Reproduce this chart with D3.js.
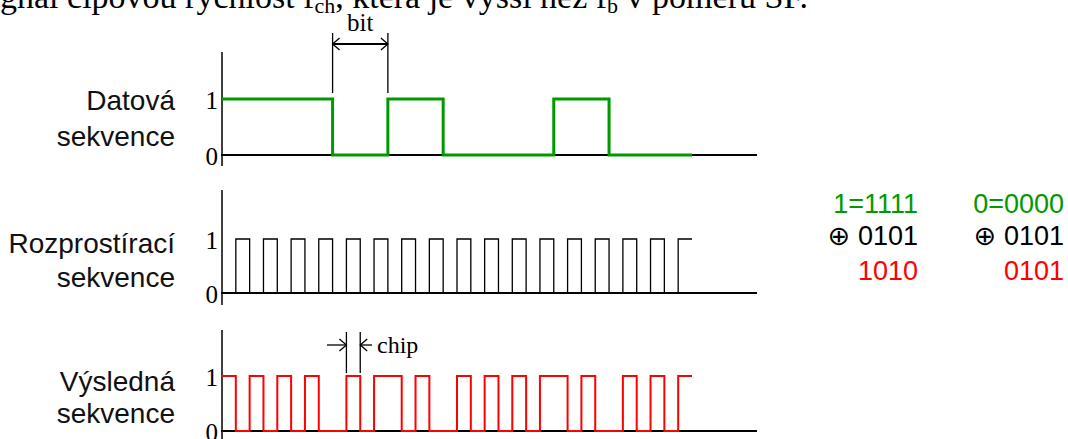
<!DOCTYPE html>
<html>
<head>
<meta charset="utf-8">
<script src="https://cdn.jsdelivr.net/npm/d3@7"></script>
<style>
  body { margin: 0; background: #fff; }
  svg { display: block; }
</style>
</head>
<body>
<div id="chart"></div>
<script>
// chart values
const panelLabels = [["Datová", "sekvence"], ["Rozprostírací", "sekvence"], ["Výsledná", "sekvence"]];
const levelLabels = ["0", "1"];
const chipsPerBit = 4;
const totalChips = 34;
const dataBits = [1, 1, 0, 1, 0, 0, 1, 0, 0];
const spreadChips = [0,1,0,1, 0,1,0,1, 0,1,0,1, 0,1,0,1, 0,1,0,1, 0,1,0,1, 0,1,0,1, 0,1,0,1, 0,1];
const resultChips = [1,0,1,0, 1,0,1,0, 0,1,0,1, 1,0,1,0, 0,1,0,1, 0,1,0,1, 1,0,1,0, 0,1,0,1, 0,1];
const bitMarker = [8, 12];   // chip index range of the marked bit
const chipMarker = [9, 10];  // chip index range of the marked chip
const codeLeft = ["1=1111", "\u2295 0101", "1010"];
const codeRight = ["0=0000", "\u2295 0101", "0101"];

const width = 1068, height = 439;
const green = "#009a00", red = "#ff0000";

const svg = d3.select("#chart").append("svg")
    .attr("width", width)
    .attr("height", height);

const x = d3.scaleLinear().domain([0, totalChips]).range([222, 692]);
const axisEnd = 757;

// layout of the three panels
const panels = [
    { zero: 155, one: 99, top: 52, bottom: 166, labelY: [110, 146], color: green, sw: 3,
      points: dataBits.map((v, i) => [i * chipsPerBit, v]).concat([[totalChips, dataBits[dataBits.length - 1]]]) },
    { zero: 293, one: 239, top: 190, bottom: 305, labelY: [253, 287], color: "#000", sw: 1.3,
      points: spreadChips.map((v, i) => [i, v]).concat([[totalChips, spreadChips[totalChips - 1]]]) },
    { zero: 431, one: 376, top: 330, bottom: 445, labelY: [391, 423], color: red, sw: 2,
      points: resultChips.map((v, i) => [i, v]).concat([[totalChips, resultChips[totalChips - 1]]]) }
];

panels.forEach((p, k) => {
    const y = d3.scaleLinear().domain([0, 1]).range([p.zero, p.one]);
    const g = svg.append("g");

    // axes
    g.append("line")
        .attr("x1", x(0)).attr("x2", x(0))
        .attr("y1", p.top).attr("y2", p.bottom)
        .attr("stroke", "#000").attr("stroke-width", 1.5);
    g.append("line")
        .attr("x1", x(0) - 1).attr("x2", axisEnd)
        .attr("y1", y(0)).attr("y2", y(0))
        .attr("stroke", "#000").attr("stroke-width", 2);

    // level labels
    g.selectAll("text.level")
        .data(levelLabels)
        .join("text")
        .attr("class", "level")
        .attr("x", 218)
        .attr("y", d => y(+d) + 10)
        .attr("text-anchor", "end")
        .attr("font-family", "'Liberation Serif', 'Times New Roman', serif")
        .attr("font-size", 25)
        .text(d => d);

    // signal
    const line = d3.line()
        .x(d => x(d[0]))
        .y(d => y(d[1]))
        .curve(d3.curveStepAfter);
    g.append("path")
        .attr("d", line(p.points))
        .attr("fill", "none")
        .attr("stroke", p.color)
        .attr("stroke-width", p.sw);

    // panel label
    g.selectAll("text.name")
        .data(panelLabels[k])
        .join("text")
        .attr("class", "name")
        .attr("x", 175)
        .attr("y", (d, i) => p.labelY[i])
        .attr("text-anchor", "end")
        .attr("font-family", "'Liberation Sans', Arial, sans-serif")
        .attr("font-size", 28)
        .attr("fill", "#111")
        .text(d => d);
});

// arrowhead helper, dir = 1 points right, -1 points left
function head(xt, yt, dir) {
    return `M${xt - dir * 7},${yt - 6}L${xt},${yt}L${xt - dir * 7},${yt + 6}`;
}

const serif = "'Liberation Serif', 'Times New Roman', serif";

// bit marker
const bm = svg.append("g").attr("stroke", "#000").attr("fill", "none").attr("stroke-width", 1.3);
bitMarker.forEach(c => {
    bm.append("line").attr("x1", x(c)).attr("x2", x(c)).attr("y1", 33).attr("y2", 93);
});
bm.append("line").attr("x1", x(bitMarker[0])).attr("x2", x(bitMarker[1])).attr("y1", 44).attr("y2", 44).attr("stroke-width", 1.8);
bm.append("path").attr("d", head(x(bitMarker[0]), 44, -1) + head(x(bitMarker[1]), 44, 1));
svg.append("text")
    .attr("x", (x(bitMarker[0]) + x(bitMarker[1])) / 2)
    .attr("y", 31)
    .attr("text-anchor", "middle")
    .attr("font-family", serif)
    .attr("font-size", 25)
    .text("bit");

// chip marker
const cm = svg.append("g").attr("stroke", "#000").attr("fill", "none").attr("stroke-width", 1.3);
chipMarker.forEach(c => {
    cm.append("line").attr("x1", x(c)).attr("x2", x(c)).attr("y1", 332).attr("y2", 373);
});
cm.append("line").attr("x1", 327).attr("x2", x(chipMarker[0])).attr("y1", 345).attr("y2", 345);
cm.append("line").attr("x1", x(chipMarker[1])).attr("x2", 372).attr("y1", 345).attr("y2", 345);
cm.append("path").attr("d", head(x(chipMarker[0]), 345, 1) + head(x(chipMarker[1]), 345, -1));
svg.append("text")
    .attr("x", 377)
    .attr("y", 353)
    .attr("font-family", serif)
    .attr("font-size", 24)
    .text("chip");

// cut-off paragraph line at the top
const para = svg.append("text")
    .attr("x", 0)
    .attr("y", 8)
    .attr("font-family", serif)
    .attr("font-size", 34);
para.append("tspan").text("gnál čipovou rychlost f");
para.append("tspan").attr("font-size", 22).attr("dy", 5).text("ch");
para.append("tspan").attr("dy", -5).text(", která je vyšší než f");
para.append("tspan").attr("font-size", 22).attr("dy", 5).text("b");
para.append("tspan").attr("dy", -5).text(" v poměru SF.");

// XOR examples on the right
const codeColors = [green, "#000", red];
const codeY = [213, 245, 280];
[[codeLeft, 918], [codeRight, 1064]].forEach(([rows, xr]) => {
    svg.append("g")
        .selectAll("text")
        .data(rows)
        .join("text")
        .attr("x", xr)
        .attr("y", (d, i) => codeY[i])
        .attr("text-anchor", "end")
        .attr("font-family", "'Liberation Sans', Arial, 'DejaVu Sans', sans-serif")
        .attr("font-size", 27)
        .attr("fill", (d, i) => codeColors[i])
        .text(d => d);
});
</script>
</body>
</html>
